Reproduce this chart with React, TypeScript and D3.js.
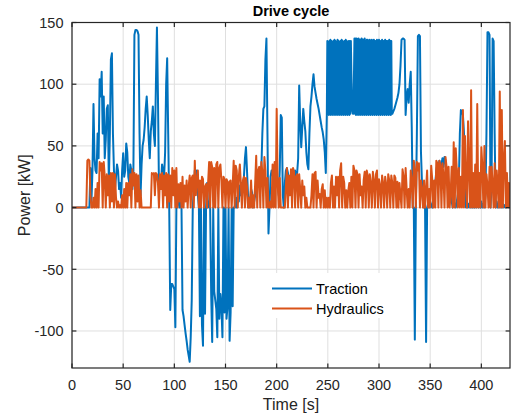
import React from 'react';
import * as d3 from 'd3';

// Traction, sampled at 1 s for t = 0 .. 248 s
const tractionStart: number[] = [
  0, 0, 0, 0, 0, 0, 0, 0, 0, 0,
  0, 0, 0, 0, 0, 0, 0, 0, 32, 5,
  30, 84, 40, 30, 28, 60, 40, 104, 90, 110,
  60, 90, 40, 55, 80, 83, 20, 60, 120, 125,
  60, 30, 15, 25, 35, 30, 15, 20, 8, 30,
  44, 25, 30, 52, 45, 25, 20, 35, 30, 15,
  30, 140, 144, 144, 143, 140, 60, 10, 35, 50,
  55, 65, 80, 90, 75, 55, 40, 62, 70, 82,
  60, 50, 100, 146, 90, 15, 25, 20, 35, 30,
  25, 45, 100, 121, 60, 0, -83, -62, -62, -64,
  -66, -97, 0, 10, 5, 0, 15, 0, -83, -88,
  -95, -102, -108, -115, -120, -125, -105, -75, 0, 15,
  30, 20, 30, 10, 0, -88, 0, -95, -112, 0,
  -86, 0, 20, 0, 5, 0, -70, -109, 0, -68,
  -75, -82, -105, 0, -90, -70, -80, -105, 0, -85,
  0, -90, -80, 0, -108, -85, 0, -80, 0, 0,
  8, 0, 10, 5, 18, 10, 20, 15, 25, 40,
  49, 30, 10, 0, 5, 15, 12, 0, 5, 10,
  20, 30, 28, 32, 20, 30, 60, 80, 82, 120,
  137, 60, -21, 0, 25, 30, 28, 20, 25, 30,
  28, 20, 10, 30, 75, 73, 10, 0, 20, 30,
  32, 28, 20, 25, 25, 28, 20, 25, 30, 25,
  28, 40, 99, 70, 49, 65, 80, 70, 62, 45,
  35, 31, 60, 82, 90, 100, 108, 98, 93, 88,
  84, 80, 75, 70, 65, 61, 55, 45, 28,
];

// Traction, sampled at 0.5 s for t = 249 .. 313.5 s (fast oscillation)
const tractionFast: number[] = [
  75, 135, 76, 134, 75, 135, 76, 136, 75, 135,
  76, 134, 75, 135, 77, 136, 75, 135, 76, 134,
  75, 136, 76, 135, 75, 134, 76, 135, 75, 136,
  76, 135, 75, 134, 76, 135, 75, 136, 76, 135,
  75, 134, 76, 135, 75, 135, 76, 135, 110, 90,
  78, 76, 76, 105, 137, 76, 137, 75, 137, 76,
  136, 75, 137, 76, 136, 75, 136, 76, 137, 75,
  136, 76, 136, 75, 137, 76, 135, 75, 136, 76,
  136, 75, 135, 76, 136, 75, 135, 76, 136, 75,
  135, 76, 136, 75, 135, 76, 135, 75, 136, 76,
  135, 75, 136, 76, 135, 75, 135, 76, 136, 75,
  135, 76, 135, 75, 136, 76, 135, 75, 135, 76,
  135, 75, 136, 76, 135, 75, 135, 76, 76, 77,
];

// Traction, sampled at 1 s for t = 314 .. 428 s
const tractionEnd: number[] = [
  78, 80, 83, 86, 89, 93,
  100, 115, 136, 137, 137, 136, 75, 90, 96, 85,
  100, 110, 65, 0, 0, -107, 0, 60, 139, 140,
  139, 45, 20, 5, 0, 0, -109, 0, 3, 0,
  5, 2, 0, 5, 10, 20, 30, 35, 32, 38,
  30, 35, 40, 33, 41, 38, 30, 20, 18, 15,
  10, 5, 0, 5, 3, 0, 5, 10, 20, 60,
  79, 78, 75, 61, 30, 0, 5, 0, 3, 0,
  5, 0, 2, 0, 5, 0, 3, 0, 2, 0,
  5, 0, 3, 0, 10, 60, 142, 142, 140, 0,
  20, 137, 135, 60, 0, 5, 0, 3, 0, 2,
  0, 3, 0, 2, 0, 0, 3, 0, 0,
];

// Hydraulics, sampled at 1 s, t = 0 .. 428 s
const hydraulics: number[] = [
  0, 0, 0, 0, 0, 0, 0, 0, 0, 0,
  0, 0, 0, 0, 0, 38, 39, 38, 10, 0,
  0, 8, 0, 15, 0, 20, 0, 37, 30, 36,
  0, 37, 25, 0, 27, 10, 26, 0, 28, 5,
  28, 0, 27, 8, 0, 5, 0, 2, 0, 10,
  0, 15, 0, 20, 0, 20, 10, 27, 0, 31,
  18, 28, 0, 27, 5, 26, 0, 14, 0, 0,
  0, 0, 0, 0, 0, 0, 0, 0, 28, 27,
  28, 10, 28, 27, 20, 0, 27, 15, 28, 0,
  26, 10, 28, 0, 27, 5, 26, 0, 32, 10,
  30, 0, 32, 0, 19, 5, 20, 0, 25, 0,
  18, 5, 22, 0, 17, 26, 0, 24, 26, 0,
  38, 10, 22, 30, 0, 22, 0, 25, 23, 0,
  17, 19, 0, 20, 37, 0, 37, 33, 0, 32,
  0, 35, 37, 0, 32, 35, 22, 0, 25, 23,
  0, 23, 21, 0, 21, 22, 0, 18, 38, 0,
  34, 30, 0, 25, 35, 19, 0, 22, 25, 0,
  24, 17, 0, 8, 0, 22, 0, 10, 0, 20,
  42, 0, 30, 33, 0, 37, 29, 0, 41, 30,
  0, 24, 0, 0, 5, 0, 35, 0, 37, 0,
  80, 20, 0, 24, 0, 0, 0, 0, 0, 17,
  32, 0, 26, 10, 31, 0, 32, 29, 0, 25,
  27, 0, 27, 15, 0, 22, 10, 17, 0, 8,
  0, 0, 0, 0, 10, 27, 0, 28, 29, 0,
  22, 8, 11, 0, 15, 19, 0, 14, 0, 8,
  0, 8, 0, 20, 26, 0, 17, 0, 25, 10,
  25, 0, 30, 36, 0, 25, 20, 0, 14, 0,
  14, 20, 0, 25, 0, 34, 30, 0, 30, 27,
  0, 27, 10, 17, 0, 22, 29, 0, 30, 26,
  0, 27, 20, 0, 29, 22, 0, 27, 30, 0,
  23, 18, 0, 26, 20, 0, 25, 19, 0, 27,
  22, 0, 26, 20, 0, 26, 24, 0, 21, 0,
  20, 10, 0, 31, 25, 0, 32, 15, 0, 15,
  0, 30, 22, 0, 38, 30, 0, 37, 30, 36,
  0, 22, 15, 0, 22, 0, 15, 30, 0, 15,
  0, 34, 23, 0, 22, 0, 38, 36, 0, 38,
  34, 0, 36, 26, 0, 41, 33, 0, 33, 0,
  11, 33, 0, 53, 0, 48, 30, 0, 32, 0,
  25, 0, 79, 0, 58, 20, 0, 70, 30, 0,
  95, 0, 28, 0, 35, 0, 84, 0, 28, 0,
  49, 33, 0, 50, 0, 27, 18, 0, 33, 0,
  33, 20, 0, 36, 0, 30, 17, 0, 94, 0,
  79, 0, 38, 54, 0, 28, 0, 20, 0,
];

const xTicks = [0, 50, 100, 150, 200, 250, 300, 350, 400];
const yTicks = [-100, -50, 0, 50, 100, 150];
const seriesNames = ['Traction', 'Hydraulics'];
const seriesColors = ['#0072BD', '#D95319'];

const W = 513;
const H = 418;
const FONT = '"Liberation Sans", Arial, Helvetica, sans-serif';

type Pt = [number, number];

function sampled(values: number[], t0: number, dt: number): Pt[] {
  return values.map((v, i) => [t0 + i * dt, v] as Pt);
}

export default function App() {
  const m = { l: 72, r: 3, t: 22.5, b: 50 };
  const x = d3.scaleLinear().domain([0, 428]).range([m.l, W - m.r]);
  const y = d3.scaleLinear().domain([-130, 150]).range([H - m.b, m.t]);
  const line = d3
    .line<Pt>()
    .x((d) => x(d[0]))
    .y((d) => y(d[1]));

  const tractionPts: Pt[] = [
    ...sampled(tractionStart, 0, 1),
    ...sampled(tractionFast, 249, 0.5),
    ...sampled(tractionEnd, 314, 1),
  ];
  const hydraulicsPts: Pt[] = sampled(hydraulics, 0, 1);
  const series = [tractionPts, hydraulicsPts];

  const x0 = m.l;
  const x1 = W - m.r;
  const y0 = H - m.b;
  const y1 = m.t;
  const tl = 4.4;
  const axisColor = '#262626';
  const gridColor = '#dfdfdf';
  const cx = (x0 + x1) / 2;
  const cy = (y0 + y1) / 2;

  return (
    <svg
      width={W}
      height={H}
      style={{ position: 'fixed', left: 0, top: 0, background: '#fff' }}
      fontFamily={FONT}
    >
      <defs>
        <clipPath id="plot">
          <rect x={x0} y={y1} width={x1 - x0} height={y0 - y1} />
        </clipPath>
      </defs>
      <rect x={0} y={0} width={W} height={H} fill="#fff" />
      <g stroke={gridColor} strokeWidth={1}>
        {xTicks.map((t) => (
          <line key={'gx' + t} x1={x(t)} x2={x(t)} y1={y1} y2={y0} />
        ))}
        {yTicks.map((t) => (
          <line key={'gy' + t} x1={x0} x2={x1} y1={y(t)} y2={y(t)} />
        ))}
      </g>
      <g clipPath="url(#plot)">
        {series.map((s, i) => (
          <path
            key={seriesNames[i]}
            d={line(s) || ''}
            fill="none"
            stroke={seriesColors[i]}
            strokeWidth={2}
            strokeLinejoin="round"
          />
        ))}
      </g>
      <g stroke={axisColor} strokeWidth={1.2} fill="none">
        <rect x={x0} y={y1} width={x1 - x0} height={y0 - y1} />
        {xTicks.map((t) => (
          <g key={'tx' + t}>
            <line x1={x(t)} x2={x(t)} y1={y0} y2={y0 - tl} />
            <line x1={x(t)} x2={x(t)} y1={y1} y2={y1 + tl} />
          </g>
        ))}
        {yTicks.map((t) => (
          <g key={'ty' + t}>
            <line x1={x0} x2={x0 + tl} y1={y(t)} y2={y(t)} />
            <line x1={x1} x2={x1 - tl} y1={y(t)} y2={y(t)} />
          </g>
        ))}
      </g>
      <g fill={axisColor} fontSize={14.5}>
        {xTicks.map((t) => (
          <text key={'lx' + t} x={x(t)} y={390} textAnchor="middle">
            {t}
          </text>
        ))}
        {yTicks.map((t) => (
          <text key={'ly' + t} x={63.5} y={y(t)} dy="0.36em" textAnchor="end">
            {t}
          </text>
        ))}
      </g>
      <text x={cx} y={410} textAnchor="middle" fontSize={16} fill={axisColor}>
        Time [s]
      </text>
      <text
        transform={`translate(30,${cy}) rotate(-90)`}
        textAnchor="middle"
        fontSize={16}
        fill={axisColor}
      >
        Power [kW]
      </text>
      <text x={cx} y={15.5} textAnchor="middle" fontSize={14.5} fontWeight="bold" fill="#000">
        Drive cycle
      </text>
      <g>
        <rect x={268} y={273} width={124} height={45} fill="#fff" />
        {seriesNames.map((n, i) => (
          <g key={'lg' + n}>
            <line
              x1={272}
              x2={312}
              y1={288.5 + i * 20}
              y2={288.5 + i * 20}
              stroke={seriesColors[i]}
              strokeWidth={2}
            />
            <text x={316} y={294 + i * 20} fontSize={14.5} fill="#000">
              {n}
            </text>
          </g>
        ))}
      </g>
    </svg>
  );
}
